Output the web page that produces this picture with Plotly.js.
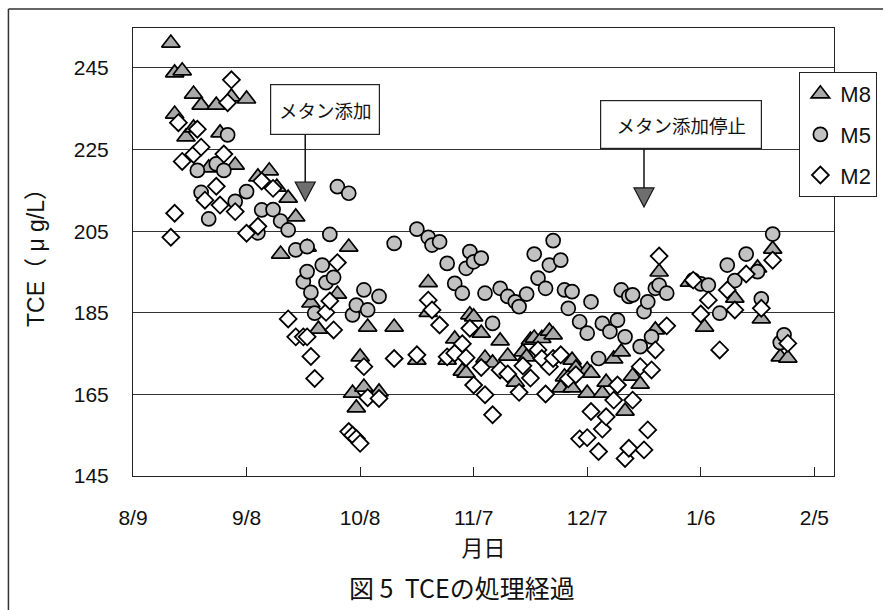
<!DOCTYPE html>
<html>
<head>
<meta charset="utf-8">
<script src="https://cdn.plot.ly/plotly-3.0.1.min.js"></script>
<style>
  html, body { margin: 0; padding: 0; background: #fff; }
  #chart { width: 889px; height: 610px; }
</style>
</head>
<body>
<div id="chart"></div>
<script>
// ---- Data (days counted from 8/9, TCE in µg/L) ----
const seriesNames = ['M8', 'M5', 'M2'];

const dayM8 = [10,11,11,13,14,16,16,18,20,22,23,26,27,30,33,36,38,39,41,43,46,47,49,54,57,58,59,60,61,62,65,69,75,78,78,83,85,87,88,89,90,92,93,95,97,99,101,103,104,105,106,108,110,111,113,114,116,116,117,120,120,121,124,125,127,129,130,132,134,138,139,147,151,159,165,166,169,171,173];
const tceM8 = [251.1,243.8,233.7,244.3,228.1,238.6,230.3,235.9,220.5,235.9,229.1,237.9,221.2,237.4,218.3,219.8,215.8,199.4,213.1,208.5,201.1,187.4,181.0,189.6,201.1,165.3,161.7,174.2,166.8,181.5,165.6,181.5,173.4,192.4,185.1,173.4,178.6,170.7,170.2,184.5,184.0,180.0,173.9,172.7,178.1,174.4,168.0,175.4,174.2,178.3,178.8,178.7,180.5,179.6,166.6,169.3,173.4,166.6,171.5,171.0,165.3,170.2,165.3,168.0,173.7,175.4,160.9,169.5,167.5,180.8,195.0,192.5,181.5,188.6,196.0,183.5,200.6,174.2,173.9];

const dayM5 = [17,18,20,22,24,25,27,30,33,34,37,39,41,43,45,46,46,47,48,50,51,52,53,54,57,58,59,61,62,65,69,75,78,79,81,83,85,87,88,89,90,92,93,95,97,99,101,102,104,106,107,109,110,111,113,114,115,116,118,120,121,123,124,126,128,129,130,131,132,134,135,136,137,138,139,141,148,150,152,155,157,159,162,165,166,169,171,172];
const tceM5 = [219.9,214.5,208.0,221.5,219.9,228.6,212.3,214.7,204.6,210.2,210.3,207.5,205.3,200.4,192.6,201.2,195.1,190.0,184.9,196.7,192.4,204.2,193.7,215.9,214.3,184.5,186.9,190.6,185.7,189.0,202.0,205.5,203.5,201.6,202.4,197.1,192.2,189.8,195.9,200.0,197.5,198.4,189.8,182.4,191.0,189.0,187.7,186.5,189.6,199.4,193.5,191.0,196.7,202.7,197.9,190.6,186.1,190.2,182.8,180.0,187.7,173.8,182.4,180.4,183.2,190.6,179.1,189.0,189.4,176.7,185.3,187.7,179.1,191.0,191.8,189.8,193.0,192.1,191.8,184.9,196.7,192.9,199.4,195.1,188.4,204.3,177.7,179.6];

const dayM2 = [10,11,12,13,16,17,18,19,22,23,24,25,26,27,30,33,34,37,41,43,45,46,47,48,51,52,53,54,57,58,59,60,61,62,65,69,75,78,79,81,83,85,87,88,89,90,92,93,95,97,99,102,103,105,107,108,109,110,111,113,115,117,118,120,121,123,124,125,127,128,130,131,132,134,135,136,137,138,139,141,148,150,152,155,157,159,162,166,169,173];
const tceM2 = [203.5,209.4,231.6,222.1,223.8,230.0,225.6,212.6,216.0,211.4,223.9,236.5,242.1,209.8,204.5,206.2,217.3,215.5,183.5,179.1,179.1,179.1,174.3,168.9,185.1,187.9,180.8,197.3,155.9,155.0,154.2,153.0,171.8,164.2,164.0,173.8,174.7,188.1,185.7,182.0,174.2,175.1,177.4,174.0,181.2,167.3,171.6,164.9,160.0,171.0,170.0,165.5,172.0,169.0,175.9,173.8,165.1,171.8,173.8,174.7,168.8,169.8,154.1,154.4,160.8,151.0,156.5,159.5,163.6,167.3,149.3,151.8,163.6,171.8,151.4,156.3,171.0,175.9,198.9,181.8,193.0,184.7,188.1,175.9,190.6,185.7,194.5,186.1,197.9,177.5];

const tickDays   = [0, 30, 60, 90, 120, 150, 180];
const tickLabels = ['8/9', '9/8', '10/8', '11/7', '12/7', '1/6', '2/5'];
const yTicks     = [145, 165, 185, 205, 225, 245];

const eventDays   = [45.5, 135];
const eventLabels = ['メタン添加', 'メタン添加停止'];

// ---- helpers ----
const BASE = Date.UTC(2001, 7, 9);
function toDate(d) {
  return new Date(BASE + d * 86400000).toISOString().replace('T', ' ').slice(0, 19);
}

const lineCol = '#222';
const latin = 'Liberation Sans, Arial, Noto Sans CJK JP, sans-serif';
const cjk = 'Noto Sans CJK JP, sans-serif';

const traces = [
  { name: seriesNames[0], x: dayM8.map(toDate), y: tceM8,
    marker: { symbol: 'triangle-up', size: 16, color: '#a9a9a9', line: { color: '#000', width: 1.7 } } },
  { name: seriesNames[1], x: dayM5.map(toDate), y: tceM5,
    marker: { symbol: 'circle', size: 14, color: '#c2c2c2', line: { color: '#000', width: 1.7 } } },
  { name: seriesNames[2], x: dayM2.map(toDate), y: tceM2,
    marker: { symbol: 'diamond', size: 13, color: '#ffffff', line: { color: '#000', width: 1.8 } } }
].map((t, i) => Object.assign(t, { type: 'scatter', mode: 'markers', legendgroup: 'g' + i, hoverinfo: 'x+y+name' }));

// event boxes / arrows (positions in pixels / paper space)
const boxStyle = [
  { xshift: 19.5, yc: 0.817, w: 108, h: 49, yb: 0.7612, yt: 0.65625 },
  { xshift: 37.5, yc: 0.7857, w: 160, h: 47, yb: 0.732, yt: 0.643 }
];
const annotations = [];
const shapes = [];
eventDays.forEach((d, i) => {
  const s = boxStyle[i];
  annotations.push({
    xref: 'x', yref: 'paper', x: toDate(d), y: s.yc, xshift: s.xshift,
    text: eventLabels[i], showarrow: false, xanchor: 'center', yanchor: 'middle',
    width: s.w, height: s.h, borderpad: 0, bgcolor: '#fff',
    bordercolor: lineCol, borderwidth: 1.2,
    font: { family: cjk, size: 18.5, color: '#111' }
  });
  shapes.push({ type: 'line', xref: 'x', yref: 'paper', x0: toDate(d), x1: toDate(d),
    y0: s.yb, y1: s.yt, line: { color: '#111', width: 1.5 } });
  shapes.push({ type: 'path', xref: 'x', yref: 'paper', xsizemode: 'pixel', ysizemode: 'pixel',
    xanchor: toDate(d), yanchor: s.yt,
    path: 'M -10 0 L 10 0 L 0 -19 Z', fillcolor: '#6e6e6e', line: { color: '#111', width: 1.2 } });
});

// caption
annotations.push({
  xref: 'paper', yref: 'paper', x: 0.47, y: -0.248, xanchor: 'center', yanchor: 'middle',
  text: '図 5  TCEの処理経過', showarrow: false,
  font: { family: cjk, size: 25, color: '#111' }
});

// outer frame lines
shapes.push({ type: 'line', xref: 'paper', yref: 'paper', x0: -0.1777, x1: -0.1777, y0: 1.0424, y1: -0.31,
  line: { color: '#333', width: 1.5 } });
shapes.push({ type: 'line', xref: 'paper', yref: 'paper', x0: -0.1777, x1: 1.07, y0: 1.0424, y1: 1.0424,
  line: { color: '#333', width: 1.5 } });

const layout = {
  width: 889, height: 610,
  margin: { l: 133, r: 47, t: 28, b: 134, pad: 0 },
  paper_bgcolor: '#fff', plot_bgcolor: '#fff',
  font: { family: latin, color: '#111' },
  showlegend: true,
  legend: {
    x: 0.9506, y: 0.9018, xanchor: 'left', yanchor: 'top',
    bgcolor: '#fff', bordercolor: lineCol, borderwidth: 1,
    font: { family: latin, size: 22, color: '#111' },
    tracegroupgap: 9, itemwidth: 30
  },
  xaxis: {
    type: 'date',
    range: [toDate(0), toDate(185.2)],
    tickvals: tickDays.map(toDate), ticktext: tickLabels,
    ticks: 'inside', ticklen: 9, tickwidth: 1, tickcolor: lineCol,
    showgrid: false, zeroline: false,
    showline: true, linecolor: lineCol, linewidth: 1, mirror: true,
    tickfont: { family: latin, size: 21, color: '#111' },
    ticklabelstandoff: 23,
    automargin: true,
    title: { text: '月日', font: { family: cjk, size: 22, color: '#111' }, standoff: 12 }
  },
  yaxis: {
    range: [145, 254.8],
    tickvals: yTicks,
    ticks: '', showgrid: true, gridcolor: '#333', gridwidth: 1,
    zeroline: false, showline: true, linecolor: lineCol, linewidth: 1, mirror: true,
    tickfont: { family: latin, size: 21, color: '#111' },
    ticklabelstandoff: 19,
    automargin: true,
    title: { text: 'TCE（ μ g/L）', font: { family: latin, size: 23, color: '#111' }, standoff: 22 }
  },
  annotations: annotations,
  shapes: shapes
};

Plotly.newPlot('chart', traces, layout, { displayModeBar: false, staticPlot: true });
</script>
</body>
</html>
